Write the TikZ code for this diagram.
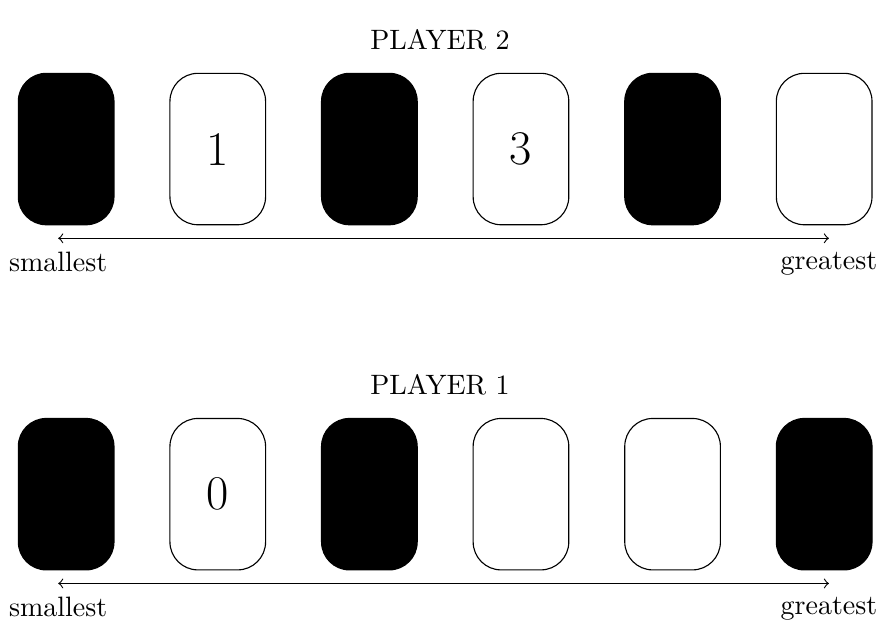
\documentclass[tikz,border=0pt]{standalone}
\usepackage{tikz}
\usetikzlibrary{positioning}
\tikzset{
  card/.style={draw, rounded corners=10pt, minimum width=1.2cm, minimum height=1.9cm, font=\LARGE},
  hidden/.style={card, fill=black},
}
\begin{document}
\begin{tikzpicture}
  \useasboundingbox (0,0) rectangle (10.99,7.77);
  % player 2
  \node (p2) at (5.52,7.27) {PLAYER 2};
  \foreach \i/\t/\s in {1//hidden,2/1/card,3//hidden,4/3/card,5//hidden,6//card}
    \node[\s] (u\i) at ({0.83+1.902*(\i-1)},5.9) {\t};
  \coordinate (ul) at (0.73,4.78);
  \coordinate (ur) at (10.4,4.78);
  \draw[<->] (ul) -- (ur);
  \node[below=0.05cm of ul] (usmall) {smallest};
  \node[below=0.05cm of ur] (ugreat) {greatest};
  % player 1
  \node (p1) at (5.52,2.94) {PLAYER 1};
  \foreach \i/\t/\s in {1//hidden,2/0/card,3//hidden,4//card,5//card,6//hidden}
    \node[\s] (d\i) at ({0.83+1.902*(\i-1)},1.57) {\t};
  \coordinate (dl) at (0.73,0.45);
  \coordinate (dr) at (10.4,0.45);
  \draw[<->] (dl) -- (dr);
  \node[below=0.05cm of dl] (dsmall) {smallest};
  \node[below=0.05cm of dr] (dgreat) {greatest};
\end{tikzpicture}
\end{document}
